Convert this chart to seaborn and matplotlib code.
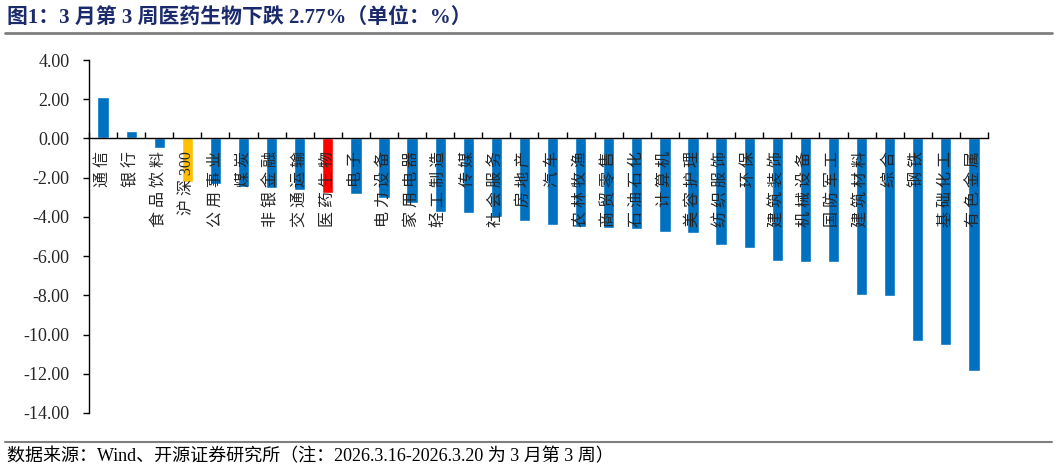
import matplotlib
matplotlib.use("Agg")
import matplotlib.pyplot as plt
import seaborn as sns
import numpy as np
from matplotlib.ticker import FixedLocator, FormatStrFormatter
from matplotlib.lines import Line2D

# --- data (weekly change by industry, %) ---
industries = ['通信', '银行', '食品饮料', '沪深300', '公用事业', '煤炭', '非银金融', '交通运输',
              '医药生物', '电子', '电力设备', '家用电器', '轻工制造', '传媒', '社会服务', '房地产',
              '汽车', '农林牧渔', '商贸零售', '石油石化', '计算机', '美容护理', '纺织服饰', '环保',
              '建筑装饰', '机械设备', '国防军工', '建筑材料', '综合', '钢铁', '基础化工', '有色金属']
changes = [2.09, 0.37, -0.48, -2.20, -2.34, -2.46, -2.55, -2.65,
           -2.77, -2.83, -3.05, -3.31, -3.75, -3.78, -4.02, -4.19,
           -4.43, -4.51, -4.56, -4.60, -4.77, -4.80, -5.45, -5.60,
           -6.26, -6.28, -6.29, -7.96, -8.01, -10.32, -10.55, -11.84]
highlight = {'沪深300': '#FFC000', '医药生物': '#FF0000'}
base_color = '#0070C0'
y_ticks = np.arange(-14, 4.01, 2)

title = '图1：3 月第 3 周医药生物下跌 2.77%（单位：%）'
source = '数据来源：Wind、开源证券研究所（注：2026.3.16-2026.3.20 为 3 月第 3 周）'


def spaced(label):
    # put a small gap between CJK characters, keep digit runs together
    parts = []
    for ch in label:
        if ch.isdigit() and parts and parts[-1][-1].isdigit():
            parts[-1] += ch
        else:
            parts.append(ch)
    return ' '.join(parts)


sns.set_style('white')
plt.rcParams['font.family'] = ['Liberation Serif', 'Noto Sans CJK SC']
plt.rcParams['axes.unicode_minus'] = False

fig = plt.figure(figsize=(10.57, 4.70), dpi=100)
ax = fig.add_axes([0.0842, 0.1213, 0.8505, 0.751])

palette = {name: highlight.get(name, base_color) for name in industries}
sns.barplot(x=industries, y=changes, hue=industries, palette=palette, legend=False,
            width=0.4, saturation=1, ax=ax)

ax.set_xlim(-0.5, len(industries) - 0.5)
ax.set_ylim(-14, 4)
ax.set_yticks(y_ticks)
ax.yaxis.set_major_formatter(FormatStrFormatter('%.2f'))
ax.set_xlabel('')
ax.set_ylabel('')
ax.set_axisbelow(False)

# spines: left axis + category axis through zero
for side in ['top', 'right']:
    ax.spines[side].set_visible(False)
ax.spines['bottom'].set_position(('data', 0))
for side in ['left', 'bottom']:
    ax.spines[side].set_color('black')
    ax.spines[side].set_linewidth(1)

ax.tick_params(axis='y', direction='out', length=4, width=1, color='black',
               pad=10, labelsize=13, left=True)
ax.set_xticks(range(len(industries)))
ax.set_xticklabels([spaced(n) for n in industries], rotation=90, va='top', ha='center')
ax.tick_params(axis='x', which='major', length=0, pad=9, labelsize=11.5, bottom=True)
ax.xaxis.set_minor_locator(FixedLocator(np.arange(len(industries) + 1) - 0.5))
ax.tick_params(axis='x', which='minor', direction='in', length=4, width=1, color='black', bottom=True)
ax.grid(False)

# title + separators + source note
fig.text(0.007, 0.963, title, fontsize=15, fontweight='bold', color='#1B2A6B', va='center', ha='left')
fig.add_artist(Line2D([0.005, 0.995], [0.930, 0.930], color='#7F7F7F', linewidth=2))
fig.add_artist(Line2D([0.005, 0.995], [0.060, 0.060], color='#7F7F7F', linewidth=1.5))
fig.text(0.007, 0.028, source, fontsize=13, color='black', va='center', ha='left')

fig.savefig('out.png', dpi=100)
